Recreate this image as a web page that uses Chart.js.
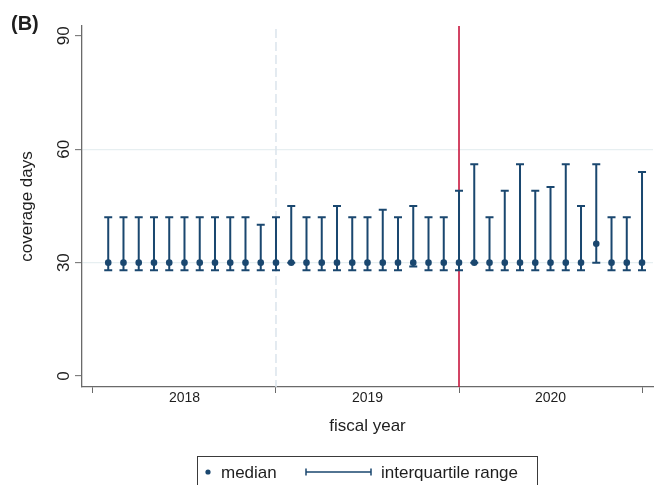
<!DOCTYPE html>
<html>
<head>
<meta charset="utf-8">
<script src="https://cdn.jsdelivr.net/npm/chart.js@4/dist/chart.umd.min.js"></script>
<style>
  html, body { margin: 0; padding: 0; background: #ffffff; }
  #wrap { width: 657px; height: 485px; position: relative; }
</style>
</head>
<body>
<div id="wrap"><canvas id="chart" width="657" height="485"></canvas></div>
<script>
// Monthly coverage days, fiscal years 2018-2020 (month index 1..36)
const months = [1, 2, 3, 4, 5, 6, 7, 8, 9, 10, 11, 12,
                13, 14, 15, 16, 17, 18, 19, 20, 21, 22, 23, 24,
                25, 26, 27, 28, 29, 30, 31, 32, 33, 34, 35, 36];
const median = [30, 30, 30, 30, 30, 30, 30, 30, 30, 30, 30, 30,
                30, 30, 30, 30, 30, 30, 30, 30, 30, 30, 30, 30,
                30, 30, 30, 30, 30, 30, 30, 30, 35, 30, 30, 30];
const q1 = [28, 28, 28, 28, 28, 28, 28, 28, 28, 28, 28, 28,
            30, 28, 28, 28, 28, 28, 28, 28, 29, 28, 28, 28,
            30, 28, 28, 28, 28, 28, 28, 28, 30, 28, 28, 28];
const q3 = [42, 42, 42, 42, 42, 42, 42, 42, 42, 42, 40, 42,
            45, 42, 42, 45, 42, 42, 44, 42, 45, 42, 42, 49,
            56, 42, 49, 56, 49, 50, 56, 45, 56, 42, 42, 54];
const yearLabels = ['2018', '2019', '2020'];
const yearBounds = [0, 12, 24, 36];
const yTicks = [0, 30, 60, 90];
const dashedAt = 12;   // boundary between 2018 and 2019
const policyAt = 24;   // boundary between 2019 and 2020

const NAVY = '#1a476f';
const AXIS = '#6a6a6a';
const TEXT = '#1e1e1e';
const FONT = '"Liberation Sans", Arial, Helvetica, sans-serif';

const decorations = {
  id: 'decorations',
  beforeDatasetsDraw(chart) {
    const { ctx, chartArea, scales: { x, y } } = chart;
    ctx.save();
    // light dashed year separator
    const xd = x.getPixelForValue(dashedAt);
    ctx.strokeStyle = '#dbe4ec';
    ctx.lineWidth = 1.5;
    ctx.setLineDash([9, 4]);
    ctx.beginPath();
    ctx.moveTo(xd, chartArea.top + 3);
    ctx.lineTo(xd, chartArea.bottom);
    ctx.stroke();
    ctx.setLineDash([]);
    // red reference line
    const xr = x.getPixelForValue(policyAt);
    ctx.strokeStyle = '#c8163e';
    ctx.lineWidth = 1.6;
    ctx.beginPath();
    ctx.moveTo(xr, chartArea.top);
    ctx.lineTo(xr, chartArea.bottom);
    ctx.stroke();
    // interquartile range bars
    ctx.strokeStyle = NAVY;
    ctx.lineWidth = 2;
    const cap = 4;
    months.forEach((m, i) => {
      const px = x.getPixelForValue(m);
      const lo = y.getPixelForValue(q1[i]);
      const hi = y.getPixelForValue(q3[i]);
      ctx.beginPath();
      ctx.moveTo(px, lo);
      ctx.lineTo(px, hi);
      ctx.moveTo(px - cap, hi);
      ctx.lineTo(px + cap, hi);
      ctx.moveTo(px - cap, lo);
      ctx.lineTo(px + cap, lo);
      ctx.stroke();
    });
    ctx.restore();
  },
  afterDraw(chart) {
    const { ctx, scales: { y } } = chart;
    ctx.save();
    // rotated y tick labels
    ctx.fillStyle = TEXT;
    ctx.font = '17px ' + FONT;
    ctx.textAlign = 'center';
    ctx.textBaseline = 'middle';
    yTicks.forEach(v => {
      ctx.save();
      ctx.translate(63, y.getPixelForValue(v));
      ctx.rotate(-Math.PI / 2);
      ctx.fillText(String(v), 0, 1);
      ctx.restore();
    });
    // panel tag
    ctx.font = 'bold 20px ' + FONT;
    ctx.textAlign = 'left';
    ctx.fillText('(B)', 11, 24);
    // legend
    ctx.strokeStyle = '#3a3a3a';
    ctx.lineWidth = 1;
    ctx.strokeRect(197.5, 456.5, 340, 40);
    ctx.fillStyle = NAVY;
    ctx.beginPath();
    ctx.arc(208, 472, 2.6, 0, Math.PI * 2);
    ctx.fill();
    ctx.strokeStyle = NAVY;
    ctx.lineWidth = 1.5;
    ctx.beginPath();
    ctx.moveTo(306, 472); ctx.lineTo(371, 472);
    ctx.moveTo(306, 468.5); ctx.lineTo(306, 475.5);
    ctx.moveTo(371, 468.5); ctx.lineTo(371, 475.5);
    ctx.stroke();
    ctx.fillStyle = TEXT;
    ctx.font = '17px ' + FONT;
    ctx.textBaseline = 'middle';
    ctx.fillText('median', 221, 473);
    ctx.fillText('interquartile range', 381, 473);
    ctx.restore();
  }
};

new Chart(document.getElementById('chart'), {
  type: 'scatter',
  data: {
    datasets: [{
      label: 'median',
      data: months.map((m, i) => ({ x: m, y: median[i] })),
      backgroundColor: NAVY,
      borderColor: NAVY,
      borderWidth: 0,
      pointRadius: 3.3,
      pointHoverRadius: 3.3
    }]
  },
  options: {
    responsive: false,
    animation: false,
    layout: { padding: { top: 26, right: 4, left: 0, bottom: 48 } },
    plugins: { legend: { display: false }, tooltip: { enabled: false } },
    scales: {
      x: {
        type: 'linear',
        min: -0.72,
        max: 36.72,
        afterBuildTicks: s => { s.ticks = [0, 6, 12, 18, 24, 30, 36].map(v => ({ value: v })); },
        afterFit: s => { s.height = 50; },
        ticks: {
          autoSkip: false,
          maxRotation: 0,
          padding: -3,
          color: TEXT,
          font: { family: FONT, size: 14 },
          callback: v => (v % 12 === 6 ? yearLabels[(v - 6) / 12] : '')
        },
        grid: {
          drawOnChartArea: false,
          tickLength: 6,
          tickWidth: 1,
          tickColor: c => (yearBounds.includes(c.tick && c.tick.value) ? AXIS : 'rgba(0,0,0,0)')
        },
        border: { color: AXIS, width: 1.3 },
        title: {
          display: true,
          text: 'fiscal year',
          color: TEXT,
          font: { family: FONT, size: 17 },
          padding: { top: 0, bottom: 0 }
        }
      },
      y: {
        min: -2.9,
        max: 92.6,
        afterBuildTicks: s => { s.ticks = yTicks.map(v => ({ value: v })); },
        afterFit: s => { s.width = 82; },
        ticks: { display: false },
        grid: {
          color: c => (c.tick && (c.tick.value === 30 || c.tick.value === 60) ? '#e7eff1' : 'rgba(0,0,0,0)'),
          lineWidth: 1.3,
          tickLength: 7,
          tickColor: AXIS,
          tickWidth: 1
        },
        border: { color: AXIS, width: 1.3 },
        title: {
          display: true,
          text: 'coverage days',
          color: TEXT,
          font: { family: FONT, size: 17 },
          padding: { top: 17, bottom: 0 }
        }
      }
    }
  },
  plugins: [decorations]
});
</script>
</body>
</html>
